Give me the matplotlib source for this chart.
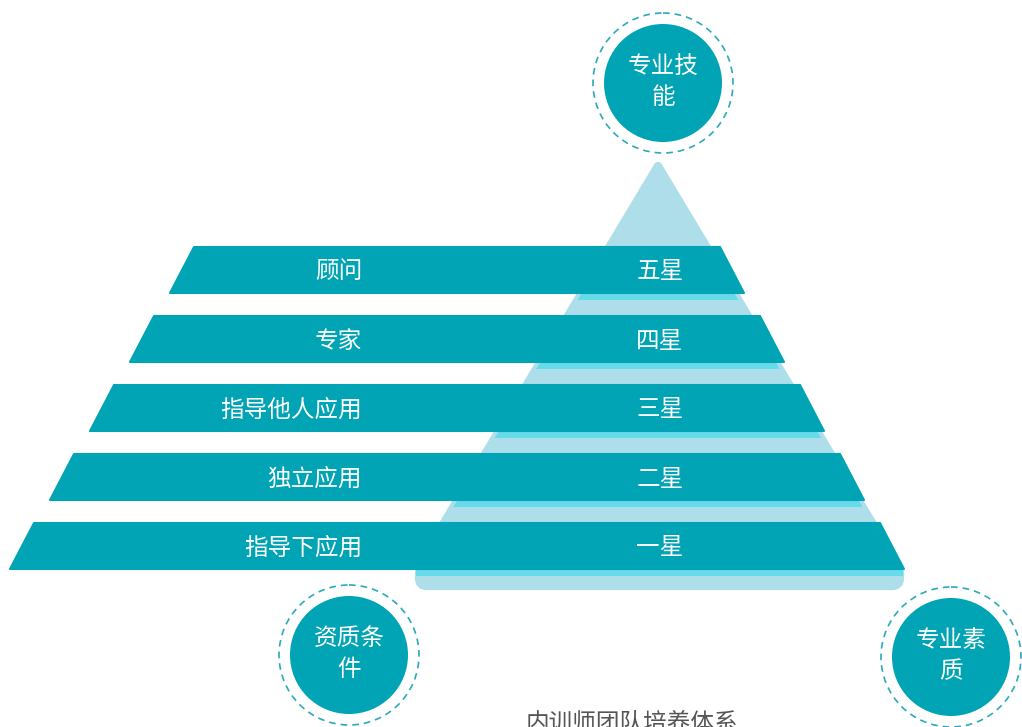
import matplotlib.pyplot as plt
from matplotlib.patches import Polygon, Circle, FancyBboxPatch, Rectangle

plt.rcParams['font.family'] = ['Noto Sans CJK SC', 'DejaVu Sans']

# data
left_labels = ['顾问', '专家', '指导他人应用', '独立应用', '指导下应用']
star_labels = ['五星', '四星', '三星', '二星', '一星']
circle_labels = ['专业技\n能', '资质条\n件', '专业素\n质']
circle_centers = [(663, 83), (349, 655), (951, 657)]
title = '内训师团队培养体系'

BAR = '#00a4b4'
LIGHT = '#aedeea'
BRIGHT = '#67dbe9'
DASH = '#2aaabb'

fig = plt.figure(figsize=(10.22, 7.27), dpi=100)
ax = fig.add_axes([0, 0, 1, 1])
ax.set_xlim(0, 1022)
ax.set_ylim(727, 0)
ax.set_aspect('equal')
ax.axis('off')

# pyramid background
apex_x, apex_y, slope = 658, 166, 0.6
base_y = 566
tri = Polygon([(apex_x, apex_y),
               (apex_x - slope * (base_y - apex_y), base_y),
               (apex_x + slope * (base_y - apex_y), base_y)],
              closed=True, facecolor=LIGHT, edgecolor=LIGHT, lw=6,
              joinstyle='round', zorder=1)
ax.add_patch(tri)
base = FancyBboxPatch((419, 566), 481, 20, boxstyle='round,pad=0,rounding_size=8',
                      facecolor=LIGHT, edgecolor=LIGHT, lw=6, zorder=1)
ax.add_patch(base)

# bars
top0, bar_h, step = 247, 46, 69
for i, (ll, sl) in enumerate(zip(left_labels, star_labels)):
    top = top0 + step * i
    bot = top + bar_h
    lt = 194 - 40 * i
    rt = 720 + 40 * i
    slant = 24
    # bright strip under bar, clipped to pyramid
    if i < len(left_labels) - 1:
        strip = Rectangle((300, bot), 700, 7, facecolor=BRIGHT, edgecolor='none', zorder=2)
        ax.add_patch(strip)
        strip.set_clip_path(tri)
    else:
        ax.add_patch(Rectangle((416, bot), 487, 7, facecolor=BRIGHT, edgecolor='none', zorder=2))
    bar = Polygon([(lt, top), (rt, top), (rt + slant, bot), (lt - slant, bot)],
                  closed=True, facecolor=BAR, edgecolor=BAR, lw=1.5,
                  joinstyle='round', zorder=3)
    ax.add_patch(bar)
    ymid = top + bar_h / 2 + 2
    ax.text(362, ymid, ll, color='white', fontsize=17, ha='right', va='center', zorder=4)
    ax.text(660, ymid, sl, color='white', fontsize=17, ha='center', va='center', zorder=4)

# circles
for (cx, cy), lab in zip(circle_centers, circle_labels):
    ax.add_patch(Circle((cx, cy), 59, facecolor=BAR, edgecolor='none', zorder=3))
    ax.add_patch(Circle((cx, cy), 70, facecolor='none', edgecolor=DASH, lw=1.2,
                        linestyle=(0, (4, 3)), zorder=3))
    ax.text(cx, cy - 1, lab, color='white', fontsize=17, ha='center', va='center',
            linespacing=1.45, zorder=4)

ax.text(632, 712, title, color='#555555', fontsize=17, ha='center', va='top')

fig.savefig('out.png', dpi=100, facecolor='white')
